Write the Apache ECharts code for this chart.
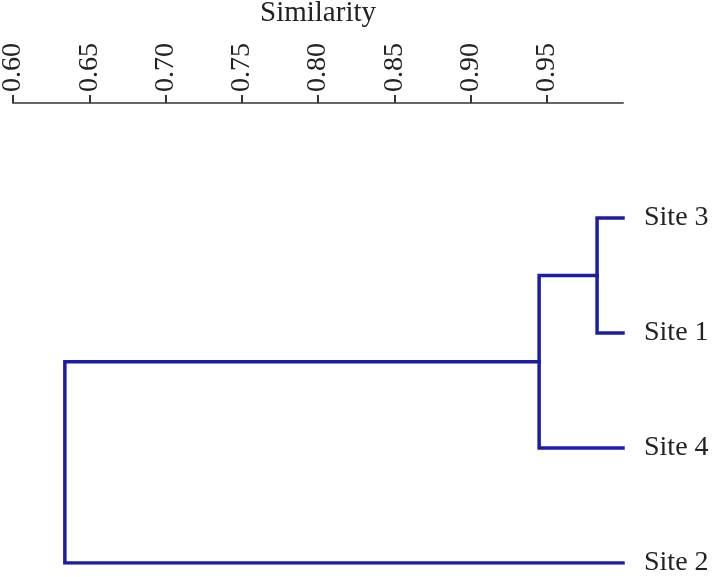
<!DOCTYPE html>
<html>
<head>
  <meta charset="utf-8" />
  <title>Similarity dendrogram</title>
  <style>
    html, body { margin: 0; padding: 0; background: #fff; }
    #chart { width: 714px; height: 577px; }
  </style>
</head>
<body>
  <div id="chart"></div>
  <script src="https://cdn.jsdelivr.net/npm/echarts@6/dist/echarts.min.js"></script>
  <script>
    // leaves, top to bottom
    var leafNames = ['Site 3', 'Site 1', 'Site 4', 'Site 2'];
    var leafSim = 1.0;
    // merges: node ids 0..3 are leaves, each merge creates node 4, 5, 6
    var mergeLeft = [0, 4, 5];
    var mergeRight = [1, 2, 3];
    var mergeSim = [0.983, 0.945, 0.634];
    var tickValues = [0.60, 0.65, 0.70, 0.75, 0.80, 0.85, 0.90, 0.95];

    var fontFamily = '"Liberation Serif", "DejaVu Serif", serif';
    var lineColor = '#1c1ca6';

    // node positions [sim, row]
    var nodes = [];
    for (var i = 0; i < leafNames.length; i++) {
      nodes.push([leafSim, i]);
    }
    var segs = [];
    for (var k = 0; k < mergeSim.length; k++) {
      var a = nodes[mergeLeft[k]];
      var b = nodes[mergeRight[k]];
      var s = mergeSim[k];
      segs.push({ coords: [[a[0], a[1]], [s, a[1]], [s, b[1]], [b[0], b[1]]] });
      nodes.push([s, (a[1] + b[1]) / 2]);
    }

    var myChart = echarts.init(document.getElementById('chart'));
    var option = {
      animation: false,
      grid: {
        left: 13, right: 91, top: 103, bottom: 14,
        containLabel: false,
        outerBoundsMode: 'none'
      },
      xAxis: {
        type: 'value',
        position: 'top',
        min: 0.6,
        max: 1.0,
        interval: 0.05,
        name: 'Similarity',
        nameLocation: 'middle',
        nameGap: 75,
        nameMoveOverlap: false,
        nameTextStyle: { fontFamily: fontFamily, fontSize: 29, color: '#222' },
        splitLine: { show: false },
        axisLine: { show: true, onZero: false, lineStyle: { color: '#666', width: 2 } },
        axisTick: {
          show: true,
          length: 8,
          customValues: tickValues,
          lineStyle: { color: '#333', width: 2 }
        },
        axisLabel: {
          show: true,
          rotate: -90,
          margin: 11,
          customValues: tickValues,
          fontFamily: fontFamily,
          fontSize: 28,
          color: '#222',
          formatter: function (v) { return v.toFixed(2); }
        }
      },
      yAxis: {
        type: 'value',
        inverse: true,
        position: 'right',
        min: -1,
        max: 3,
        interval: 1,
        splitLine: { show: false },
        axisLine: { show: false, onZero: false },
        axisTick: { show: false },
        axisLabel: {
          show: true,
          margin: 21,
          fontFamily: fontFamily,
          fontSize: 28,
          color: '#222',
          formatter: function (v) { return leafNames[v] || ''; }
        }
      },
      series: [{
        type: 'lines',
        coordinateSystem: 'cartesian2d',
        polyline: true,
        lineStyle: { color: lineColor, width: 3.5, opacity: 1, cap: 'square', join: 'miter' },
        data: segs
      }]
    };
    myChart.setOption(option);
  </script>
</body>
</html>
